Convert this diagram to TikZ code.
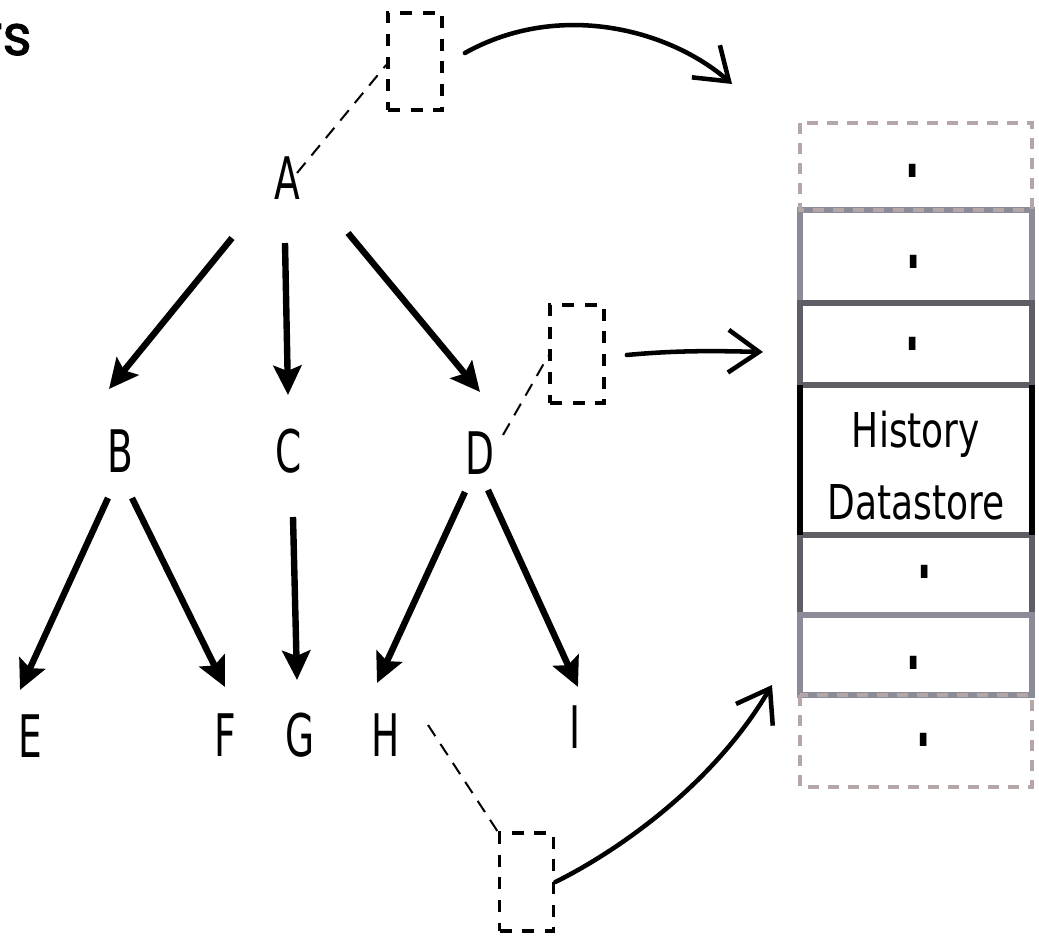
\documentclass[tikz,border=0pt]{standalone}
\usepackage{fontspec}
\setmainfont{DejaVu Sans}
\newfontfamily\popfont{Poppins}[FakeBold=1.5]
\usetikzlibrary{arrows.meta,calc}
\definecolor{cellpink}{HTML}{B5A7A7}
\definecolor{celllight}{HTML}{8C8C98}
\definecolor{celldark}{HTML}{5E5E66}
\newcommand{\sxl}[1]{\scalebox{0.64}[1]{#1}}
\begin{document}
\begin{tikzpicture}[x=0.75pt,y=-0.75pt,
  letter/.style={font=\fontsize{44}{50}\selectfont, inner sep=0pt},
  treearrow/.style={line width=4.8pt, -{Stealth[length=22pt,width=21pt,inset=4pt]}},
  dbox/.style={draw, line width=2.8pt, dash pattern=on 9pt off 8pt, minimum width=40.5pt, minimum height=73pt, inner sep=0pt},
  link/.style={line width=1.5pt, dash pattern=on 10pt off 7pt},
  flow/.style={line width=3.4pt, line cap=round, -{Straight Barb[length=23pt,width=32pt]}},
  cellline/.style={line width=4pt},
  pinkcell/.style={draw=cellpink, line width=2.6pt, dash pattern=on 8pt off 7pt},
  dotn/.style={font=\fontsize{80}{80}\selectfont, inner sep=0pt, anchor=base}]
\useasboundingbox (0,0) rectangle (1039,937);

% title fragment
\node[font=\popfont\fontsize{42}{50}\selectfont, anchor=base east, inner sep=0pt] (title) at (32,55) {rs};

% tree letters
\node[letter] (A) at (287,178) {\sxl{A}};
\node[letter] (B) at (120,451) {\sxl{B}};
\node[letter] (C) at (289,451) {\sxl{C}};
\node[letter] (D) at (480,453) {\sxl{D}};
\node[letter] (E) at (30,736) {\sxl{E}};
\node[letter] (F) at (225,735) {\sxl{F}};
\node[letter] (G) at (300,735) {\sxl{G}};
\node[letter] (H) at (386,735) {\sxl{H}};
\node[letter] (I) at (575,727) {\sxl{I}};

% tree arrows
\draw[treearrow] ($(A)+(-55,60)$) -- ($(B)+(-11,-62)$);
\draw[treearrow] ($(A)+(-2,65)$) -- ($(C)+(-1,-56)$);
\draw[treearrow] ($(A)+(61,55)$) -- ($(D)+(0,-61)$);
\draw[treearrow] ($(B)+(-12,47)$) -- ($(E)+(-10,-46)$);
\draw[treearrow] ($(B)+(12,47)$) -- ($(F)+(0,-48)$);
\draw[treearrow] ($(C)+(4,66)$) -- ($(G)+(-3,-55)$);
\draw[treearrow] ($(D)+(-15,39)$) -- ($(H)+(-9,-52)$);
\draw[treearrow] ($(D)+(8,37)$) -- ($(I)+(3,-40)$);

% small dashed boxes
\node[dbox] (b1) at (415,61.5) {};
\node[dbox] (b2) at (577,354) {};
\node[dbox] (b3) at (526.5,882) {};

% thin dashed links
\draw[link] ($(A)+(10,-5)$) -- ($(b1.west)+(0,3.5)$);
\draw[link] ($(D)+(23,-18)$) -- ($(b2.west)+(0,2)$);
\draw[link] ($(H)+(42,-10)$) -- (b3.north west);

% datastore cells
\draw[celllight, cellline] (800,210) rectangle (1032,303);
\draw[celldark, cellline] (800,303) rectangle (1032,385);
\draw[celldark, cellline] (800,535) rectangle (1032,615);
\draw[celllight, cellline] (800,615) rectangle (1032,695);
\draw[celldark, line width=4.5pt] (800,385) -- (1032,385) (800,535) -- (1032,535);
\draw[black, line width=4.5pt] (800,385) -- (800,535) (1032,385) -- (1032,535);
\draw[pinkcell] (800,123) rectangle (1032,210);
\draw[pinkcell] (800,695) rectangle (1032,787);

\node[font=\fontsize{36}{54}\selectfont, inner sep=0pt] (hist) at (916,469.6)
  {\scalebox{0.75}[1]{\begin{tabular}{@{}c@{}}History\\Datastore\end{tabular}}};

% dots
\node[dotn] (d1) at (913,178) {\scalebox{0.6}[1]{.}};
\node[dotn] (d2) at (914,269) {\scalebox{0.6}[1]{.}};
\node[dotn] (d3) at (913,351) {\scalebox{0.6}[1]{.}};
\node[dotn] (d4) at (925,579) {\scalebox{0.6}[1]{.}};
\node[dotn] (d5) at (914,669) {\scalebox{0.6}[1]{.}};
\node[dotn] (d6) at (924,746) {\scalebox{0.6}[1]{.}};

% flow arrows
\coordinate (t1) at (732,84);
\coordinate (t2) at (763,352);
\coordinate (t3) at (772,685);
\draw[flow] ($(b1.east)+(21,-8.5)$) .. controls (560,0) and (670,30) .. (t1);
\draw[flow] ($(b2.east)+(21,1)$) .. controls (680,350) and (720,351) .. (t2);
\draw[flow] (b3.east) .. controls (610,855) and (710,790) .. (t3);
\end{tikzpicture}
\end{document}
